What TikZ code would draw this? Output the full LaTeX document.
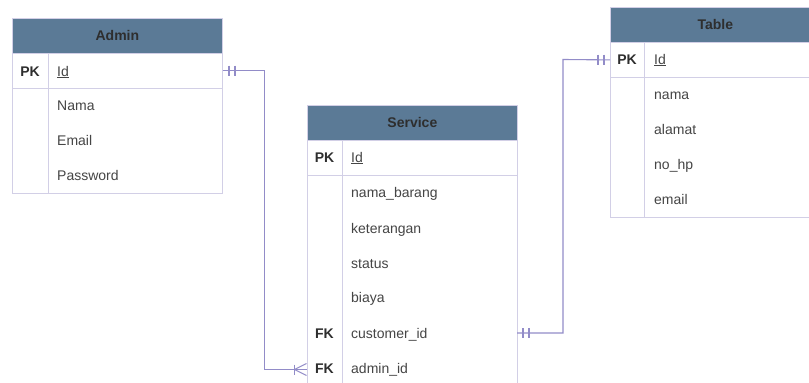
\documentclass[tikz,border=0pt]{standalone}
\usepackage{fontspec}
\setmainfont{Liberation Sans}
\definecolor{hdrfill}{HTML}{5B7A96}
\definecolor{hdrtext}{HTML}{2E2E2E}
\definecolor{frame}{HTML}{D2CFE6}
\definecolor{fieldtext}{HTML}{454545}
\definecolor{linkcol}{HTML}{928CC8}
\tikzset{
  hdr/.style={draw=frame, fill=hdrfill, line width=0.8pt, minimum height=35pt, anchor=north west, inner sep=0pt,
    font=\fontsize{14}{16}\selectfont\bfseries, text=hdrtext},
  tbody/.style={draw=frame, line width=0.8pt, anchor=north west, inner sep=0pt},
  pkrow/.style={draw=frame, line width=0.8pt, minimum height=35pt, anchor=north west, inner sep=0pt},
  fld/.style={anchor=base west, inner sep=0pt, font=\fontsize{14}{16}\selectfont, text=fieldtext},
  keytag/.style={anchor=base, inner sep=0pt, font=\fontsize{14}{16}\selectfont\bfseries, text=hdrtext},
  sep/.style={draw=frame, line width=0.8pt},
  link/.style={draw=linkcol, line width=1.1pt},
  tick/.style={draw=linkcol, line width=1.1pt},
}
\begin{document}
\begin{tikzpicture}[x=1pt, y=-1pt]
\useasboundingbox (0,0) rectangle (809,383);
\clip (0,0) rectangle (809,383);
\fill[white] (0,0) rectangle (809,383);

% ---------- Admin ----------
\node[tbody, minimum width=210pt, minimum height=140pt] (admin) at (12,53) {};
\node[pkrow, minimum width=210pt] (adminPK) at (12,53) {};
\draw[sep] (48,53) -- (48,193);
\node[hdr, minimum width=210pt] (adminH) at (12,18) {Admin};
\node[keytag] (adminPKt) at (30,76) {PK};
\node[fld] (adminId) at (57,76) {\underline{Id}};
\node[fld] (adminNama) at (57,110) {Nama};
\node[fld] (adminEmail) at (57,145) {Email};
\node[fld] (adminPass) at (57,180) {Password};

% ---------- Service ----------
\node[tbody, minimum width=210pt, minimum height=260pt] (svc) at (307,140) {};
\node[pkrow, minimum width=210pt] (svcPK) at (307,140) {};
\draw[sep] (342,140) -- (342,400);
\node[hdr, minimum width=210pt] (svcH) at (307,105) {Service};
\node[keytag] (svcPKt) at (324.5,162) {PK};
\node[fld] (svcId) at (351,162) {\underline{Id}};
\node[fld] (svcNama) at (351,197) {nama\_barang};
\node[fld] (svcKet) at (351,233) {keterangan};
\node[fld] (svcStatus) at (351,268) {status};
\node[fld] (svcBiaya) at (351,302) {biaya};
\node[keytag] (svcFK1) at (324.5,338) {FK};
\node[fld] (svcCust) at (351,338) {customer\_id};
\node[keytag] (svcFK2) at (324.5,373) {FK};
\node[fld] (svcAdm) at (351,373) {admin\_id};

% ---------- Table ----------
\node[tbody, minimum width=210pt, minimum height=175pt] (tbl) at (610,42) {};
\node[pkrow, minimum width=210pt] (tblPK) at (610,42) {};
\draw[sep] (644,42) -- (644,217);
\node[hdr, minimum width=210pt] (tblH) at (610,7) {Table};
\node[keytag] (tblPKt) at (627,64) {PK};
\node[fld] (tblId) at (654,64) {\underline{Id}};
\node[fld] (tblNama) at (654,99) {nama};
\node[fld] (tblAlamat) at (654,134) {alamat};
\node[fld] (tblHp) at (654,169) {no\_hp};
\node[fld] (tblEmail) at (654,204) {email};

% ---------- relationships ----------
\coordinate (svcAdmEnd) at (307,369.5);
\coordinate (svcCustEnd) at (517,333);

% Admin (one, mandatory) -> Service (many)
\draw[link] (adminPK.east) -| (264.5,369.5) -- (svcAdmEnd);
\draw[tick] (229,65.5) -- (229,75.5);
\draw[tick] (235,65.5) -- (235,75.5);
\draw[tick] (294.5,364.5) -- (294.5,374.5);
\draw[tick] (294.5,369.5) -- (306.5,363.5);
\draw[tick] (294.5,369.5) -- (306.5,375.5);

% Service (one, mandatory) -> Table (one, mandatory)
\draw[link] (svcCustEnd) -| (563,59.5) -- (tblPK.west);
\draw[tick] (523,328) -- (523,338);
\draw[tick] (529,328) -- (529,338);
\draw[tick] (598,54.5) -- (598,64.5);
\draw[tick] (604,54.5) -- (604,64.5);
\end{tikzpicture}
\end{document}
